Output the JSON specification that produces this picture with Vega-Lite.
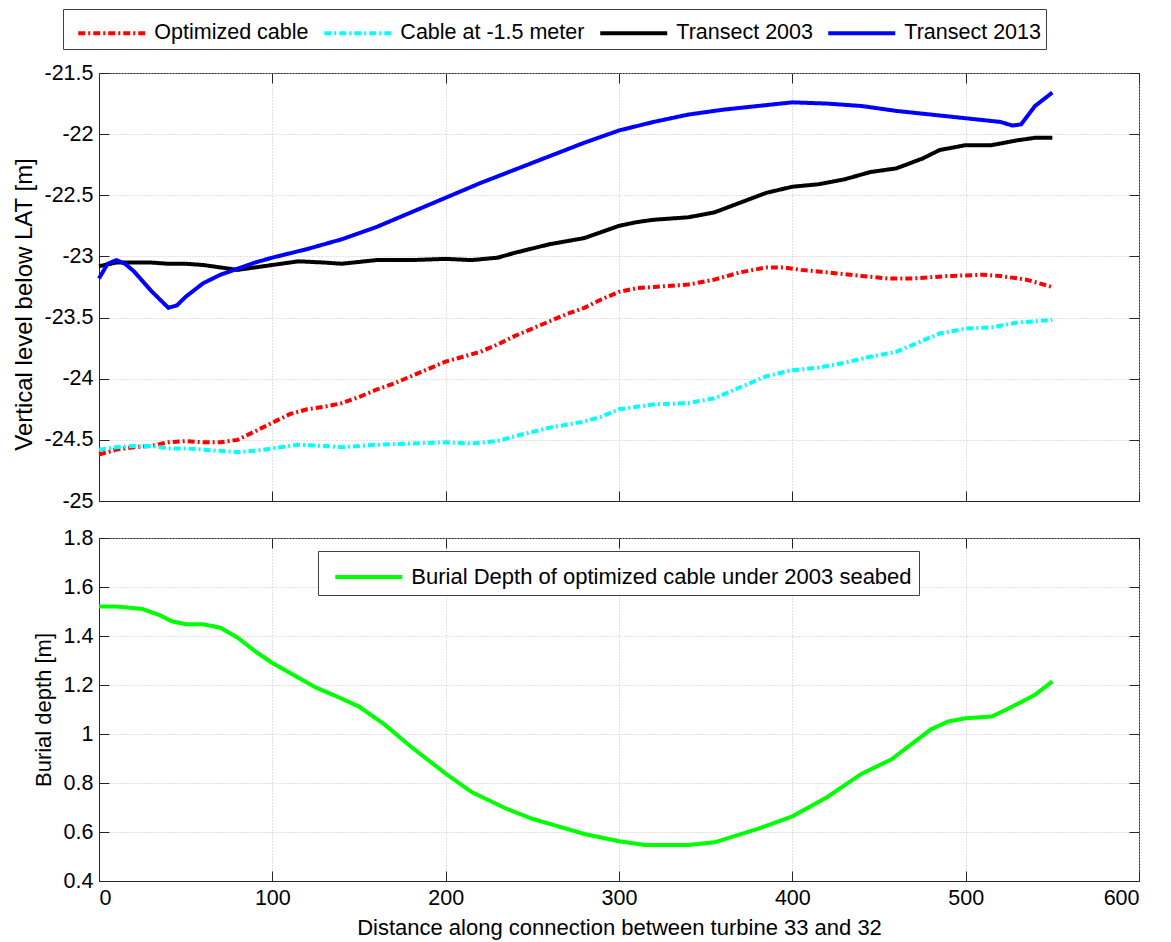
{
  "$schema": "https://vega.github.io/schema/vega-lite/v6.json",
  "background": "white",
  "padding": {"left": 12, "top": 8, "right": 10, "bottom": 5},
  "config": {
    "font": "Liberation Sans",
    "view": {"stroke": "#262626", "strokeWidth": 1},
    "axis": {
      "labelFont": "Liberation Sans",
      "labelFontSize": 21.5,
      "labelColor": "#000000",
      "titleFont": "Liberation Sans",
      "titleFontSize": 22,
      "titleFontWeight": "normal",
      "titleColor": "#000000",
      "domainColor": "#262626",
      "tickColor": "#262626",
      "tickSize": -10,
      "gridColor": "#c4c4c4",
      "gridDash": [1, 2],
      "gridWidth": 1
    }
  },
  "datasets": {
    "levels": [
      {"series": "Optimized cable", "distance": 0, "level": -24.62},
      {"series": "Optimized cable", "distance": 10, "level": -24.58},
      {"series": "Optimized cable", "distance": 20, "level": -24.56},
      {"series": "Optimized cable", "distance": 30, "level": -24.55},
      {"series": "Optimized cable", "distance": 40, "level": -24.52},
      {"series": "Optimized cable", "distance": 50, "level": -24.51},
      {"series": "Optimized cable", "distance": 60, "level": -24.52},
      {"series": "Optimized cable", "distance": 70, "level": -24.52},
      {"series": "Optimized cable", "distance": 80, "level": -24.5},
      {"series": "Optimized cable", "distance": 90, "level": -24.43},
      {"series": "Optimized cable", "distance": 100, "level": -24.36},
      {"series": "Optimized cable", "distance": 110, "level": -24.29},
      {"series": "Optimized cable", "distance": 120, "level": -24.25},
      {"series": "Optimized cable", "distance": 130, "level": -24.23},
      {"series": "Optimized cable", "distance": 140, "level": -24.2},
      {"series": "Optimized cable", "distance": 150, "level": -24.15},
      {"series": "Optimized cable", "distance": 160, "level": -24.09},
      {"series": "Optimized cable", "distance": 170, "level": -24.04},
      {"series": "Optimized cable", "distance": 180, "level": -23.98},
      {"series": "Optimized cable", "distance": 190, "level": -23.92},
      {"series": "Optimized cable", "distance": 200, "level": -23.86},
      {"series": "Optimized cable", "distance": 210, "level": -23.82},
      {"series": "Optimized cable", "distance": 220, "level": -23.78},
      {"series": "Optimized cable", "distance": 230, "level": -23.72},
      {"series": "Optimized cable", "distance": 240, "level": -23.65},
      {"series": "Optimized cable", "distance": 250, "level": -23.59},
      {"series": "Optimized cable", "distance": 260, "level": -23.53},
      {"series": "Optimized cable", "distance": 270, "level": -23.47},
      {"series": "Optimized cable", "distance": 280, "level": -23.42},
      {"series": "Optimized cable", "distance": 290, "level": -23.35},
      {"series": "Optimized cable", "distance": 300, "level": -23.29},
      {"series": "Optimized cable", "distance": 310, "level": -23.26},
      {"series": "Optimized cable", "distance": 320, "level": -23.25},
      {"series": "Optimized cable", "distance": 340, "level": -23.23},
      {"series": "Optimized cable", "distance": 355, "level": -23.19},
      {"series": "Optimized cable", "distance": 370, "level": -23.13},
      {"series": "Optimized cable", "distance": 385, "level": -23.09},
      {"series": "Optimized cable", "distance": 395, "level": -23.09},
      {"series": "Optimized cable", "distance": 405, "level": -23.11},
      {"series": "Optimized cable", "distance": 420, "level": -23.13},
      {"series": "Optimized cable", "distance": 440, "level": -23.16},
      {"series": "Optimized cable", "distance": 455, "level": -23.18},
      {"series": "Optimized cable", "distance": 470, "level": -23.18},
      {"series": "Optimized cable", "distance": 490, "level": -23.16},
      {"series": "Optimized cable", "distance": 510, "level": -23.15},
      {"series": "Optimized cable", "distance": 520, "level": -23.16},
      {"series": "Optimized cable", "distance": 535, "level": -23.19},
      {"series": "Optimized cable", "distance": 550, "level": -23.25},

      {"series": "Cable at -1.5 meter", "distance": 0, "level": -24.58},
      {"series": "Cable at -1.5 meter", "distance": 10, "level": -24.56},
      {"series": "Cable at -1.5 meter", "distance": 20, "level": -24.55},
      {"series": "Cable at -1.5 meter", "distance": 30, "level": -24.55},
      {"series": "Cable at -1.5 meter", "distance": 40, "level": -24.57},
      {"series": "Cable at -1.5 meter", "distance": 50, "level": -24.57},
      {"series": "Cable at -1.5 meter", "distance": 60, "level": -24.58},
      {"series": "Cable at -1.5 meter", "distance": 70, "level": -24.59},
      {"series": "Cable at -1.5 meter", "distance": 80, "level": -24.6},
      {"series": "Cable at -1.5 meter", "distance": 90, "level": -24.59},
      {"series": "Cable at -1.5 meter", "distance": 100, "level": -24.57},
      {"series": "Cable at -1.5 meter", "distance": 115, "level": -24.54},
      {"series": "Cable at -1.5 meter", "distance": 130, "level": -24.55},
      {"series": "Cable at -1.5 meter", "distance": 140, "level": -24.56},
      {"series": "Cable at -1.5 meter", "distance": 160, "level": -24.54},
      {"series": "Cable at -1.5 meter", "distance": 180, "level": -24.53},
      {"series": "Cable at -1.5 meter", "distance": 200, "level": -24.52},
      {"series": "Cable at -1.5 meter", "distance": 215, "level": -24.53},
      {"series": "Cable at -1.5 meter", "distance": 230, "level": -24.51},
      {"series": "Cable at -1.5 meter", "distance": 240, "level": -24.47},
      {"series": "Cable at -1.5 meter", "distance": 260, "level": -24.4},
      {"series": "Cable at -1.5 meter", "distance": 280, "level": -24.35},
      {"series": "Cable at -1.5 meter", "distance": 290, "level": -24.31},
      {"series": "Cable at -1.5 meter", "distance": 300, "level": -24.25},
      {"series": "Cable at -1.5 meter", "distance": 320, "level": -24.21},
      {"series": "Cable at -1.5 meter", "distance": 340, "level": -24.2},
      {"series": "Cable at -1.5 meter", "distance": 355, "level": -24.16},
      {"series": "Cable at -1.5 meter", "distance": 370, "level": -24.07},
      {"series": "Cable at -1.5 meter", "distance": 385, "level": -23.98},
      {"series": "Cable at -1.5 meter", "distance": 400, "level": -23.93},
      {"series": "Cable at -1.5 meter", "distance": 415, "level": -23.91},
      {"series": "Cable at -1.5 meter", "distance": 430, "level": -23.87},
      {"series": "Cable at -1.5 meter", "distance": 445, "level": -23.82},
      {"series": "Cable at -1.5 meter", "distance": 460, "level": -23.78},
      {"series": "Cable at -1.5 meter", "distance": 475, "level": -23.69},
      {"series": "Cable at -1.5 meter", "distance": 485, "level": -23.63},
      {"series": "Cable at -1.5 meter", "distance": 500, "level": -23.59},
      {"series": "Cable at -1.5 meter", "distance": 515, "level": -23.58},
      {"series": "Cable at -1.5 meter", "distance": 530, "level": -23.54},
      {"series": "Cable at -1.5 meter", "distance": 550, "level": -23.52},

      {"series": "Transect 2003", "distance": 0, "level": -23.08},
      {"series": "Transect 2003", "distance": 10, "level": -23.05},
      {"series": "Transect 2003", "distance": 20, "level": -23.05},
      {"series": "Transect 2003", "distance": 30, "level": -23.05},
      {"series": "Transect 2003", "distance": 40, "level": -23.06},
      {"series": "Transect 2003", "distance": 50, "level": -23.06},
      {"series": "Transect 2003", "distance": 60, "level": -23.07},
      {"series": "Transect 2003", "distance": 70, "level": -23.09},
      {"series": "Transect 2003", "distance": 80, "level": -23.11},
      {"series": "Transect 2003", "distance": 90, "level": -23.09},
      {"series": "Transect 2003", "distance": 100, "level": -23.07},
      {"series": "Transect 2003", "distance": 115, "level": -23.04},
      {"series": "Transect 2003", "distance": 130, "level": -23.05},
      {"series": "Transect 2003", "distance": 140, "level": -23.06},
      {"series": "Transect 2003", "distance": 160, "level": -23.03},
      {"series": "Transect 2003", "distance": 180, "level": -23.03},
      {"series": "Transect 2003", "distance": 200, "level": -23.02},
      {"series": "Transect 2003", "distance": 215, "level": -23.03},
      {"series": "Transect 2003", "distance": 230, "level": -23.01},
      {"series": "Transect 2003", "distance": 240, "level": -22.97},
      {"series": "Transect 2003", "distance": 260, "level": -22.9},
      {"series": "Transect 2003", "distance": 280, "level": -22.85},
      {"series": "Transect 2003", "distance": 290, "level": -22.8},
      {"series": "Transect 2003", "distance": 300, "level": -22.75},
      {"series": "Transect 2003", "distance": 310, "level": -22.72},
      {"series": "Transect 2003", "distance": 320, "level": -22.7},
      {"series": "Transect 2003", "distance": 340, "level": -22.68},
      {"series": "Transect 2003", "distance": 355, "level": -22.64},
      {"series": "Transect 2003", "distance": 370, "level": -22.56},
      {"series": "Transect 2003", "distance": 385, "level": -22.48},
      {"series": "Transect 2003", "distance": 400, "level": -22.43},
      {"series": "Transect 2003", "distance": 415, "level": -22.41},
      {"series": "Transect 2003", "distance": 430, "level": -22.37},
      {"series": "Transect 2003", "distance": 445, "level": -22.31},
      {"series": "Transect 2003", "distance": 460, "level": -22.28},
      {"series": "Transect 2003", "distance": 475, "level": -22.2},
      {"series": "Transect 2003", "distance": 485, "level": -22.13},
      {"series": "Transect 2003", "distance": 500, "level": -22.09},
      {"series": "Transect 2003", "distance": 515, "level": -22.09},
      {"series": "Transect 2003", "distance": 530, "level": -22.05},
      {"series": "Transect 2003", "distance": 540, "level": -22.03},
      {"series": "Transect 2003", "distance": 550, "level": -22.03},

      {"series": "Transect 2013", "distance": 0, "level": -23.18},
      {"series": "Transect 2013", "distance": 5, "level": -23.06},
      {"series": "Transect 2013", "distance": 10, "level": -23.03},
      {"series": "Transect 2013", "distance": 15, "level": -23.06},
      {"series": "Transect 2013", "distance": 20, "level": -23.12},
      {"series": "Transect 2013", "distance": 30, "level": -23.28},
      {"series": "Transect 2013", "distance": 40, "level": -23.42},
      {"series": "Transect 2013", "distance": 45, "level": -23.4},
      {"series": "Transect 2013", "distance": 50, "level": -23.33},
      {"series": "Transect 2013", "distance": 60, "level": -23.22},
      {"series": "Transect 2013", "distance": 70, "level": -23.15},
      {"series": "Transect 2013", "distance": 80, "level": -23.1},
      {"series": "Transect 2013", "distance": 90, "level": -23.05},
      {"series": "Transect 2013", "distance": 100, "level": -23.01},
      {"series": "Transect 2013", "distance": 120, "level": -22.94},
      {"series": "Transect 2013", "distance": 140, "level": -22.86},
      {"series": "Transect 2013", "distance": 160, "level": -22.76},
      {"series": "Transect 2013", "distance": 180, "level": -22.64},
      {"series": "Transect 2013", "distance": 200, "level": -22.52},
      {"series": "Transect 2013", "distance": 220, "level": -22.4},
      {"series": "Transect 2013", "distance": 240, "level": -22.29},
      {"series": "Transect 2013", "distance": 260, "level": -22.18},
      {"series": "Transect 2013", "distance": 280, "level": -22.07},
      {"series": "Transect 2013", "distance": 300, "level": -21.97},
      {"series": "Transect 2013", "distance": 320, "level": -21.9},
      {"series": "Transect 2013", "distance": 340, "level": -21.84},
      {"series": "Transect 2013", "distance": 360, "level": -21.8},
      {"series": "Transect 2013", "distance": 380, "level": -21.77},
      {"series": "Transect 2013", "distance": 400, "level": -21.74},
      {"series": "Transect 2013", "distance": 420, "level": -21.75},
      {"series": "Transect 2013", "distance": 440, "level": -21.77},
      {"series": "Transect 2013", "distance": 460, "level": -21.81},
      {"series": "Transect 2013", "distance": 480, "level": -21.84},
      {"series": "Transect 2013", "distance": 500, "level": -21.87},
      {"series": "Transect 2013", "distance": 520, "level": -21.9},
      {"series": "Transect 2013", "distance": 527, "level": -21.93},
      {"series": "Transect 2013", "distance": 532, "level": -21.92},
      {"series": "Transect 2013", "distance": 540, "level": -21.77},
      {"series": "Transect 2013", "distance": 550, "level": -21.66}
    ],
    "burial": [
      {"series": "Burial Depth of optimized cable under 2003 seabed", "distance": 0, "depth": 1.52},
      {"series": "Burial Depth of optimized cable under 2003 seabed", "distance": 10, "depth": 1.52},
      {"series": "Burial Depth of optimized cable under 2003 seabed", "distance": 25, "depth": 1.51},
      {"series": "Burial Depth of optimized cable under 2003 seabed", "distance": 35, "depth": 1.485},
      {"series": "Burial Depth of optimized cable under 2003 seabed", "distance": 42, "depth": 1.46},
      {"series": "Burial Depth of optimized cable under 2003 seabed", "distance": 50, "depth": 1.448},
      {"series": "Burial Depth of optimized cable under 2003 seabed", "distance": 60, "depth": 1.448},
      {"series": "Burial Depth of optimized cable under 2003 seabed", "distance": 70, "depth": 1.434},
      {"series": "Burial Depth of optimized cable under 2003 seabed", "distance": 80, "depth": 1.393},
      {"series": "Burial Depth of optimized cable under 2003 seabed", "distance": 90, "depth": 1.338},
      {"series": "Burial Depth of optimized cable under 2003 seabed", "distance": 100, "depth": 1.29},
      {"series": "Burial Depth of optimized cable under 2003 seabed", "distance": 110, "depth": 1.25},
      {"series": "Burial Depth of optimized cable under 2003 seabed", "distance": 125, "depth": 1.19},
      {"series": "Burial Depth of optimized cable under 2003 seabed", "distance": 135, "depth": 1.16},
      {"series": "Burial Depth of optimized cable under 2003 seabed", "distance": 150, "depth": 1.112},
      {"series": "Burial Depth of optimized cable under 2003 seabed", "distance": 165, "depth": 1.037},
      {"series": "Burial Depth of optimized cable under 2003 seabed", "distance": 180, "depth": 0.948},
      {"series": "Burial Depth of optimized cable under 2003 seabed", "distance": 200, "depth": 0.838},
      {"series": "Burial Depth of optimized cable under 2003 seabed", "distance": 215, "depth": 0.763},
      {"series": "Burial Depth of optimized cable under 2003 seabed", "distance": 235, "depth": 0.695},
      {"series": "Burial Depth of optimized cable under 2003 seabed", "distance": 250, "depth": 0.654},
      {"series": "Burial Depth of optimized cable under 2003 seabed", "distance": 260, "depth": 0.633},
      {"series": "Burial Depth of optimized cable under 2003 seabed", "distance": 280, "depth": 0.592},
      {"series": "Burial Depth of optimized cable under 2003 seabed", "distance": 300, "depth": 0.562},
      {"series": "Burial Depth of optimized cable under 2003 seabed", "distance": 315, "depth": 0.547},
      {"series": "Burial Depth of optimized cable under 2003 seabed", "distance": 340, "depth": 0.547},
      {"series": "Burial Depth of optimized cable under 2003 seabed", "distance": 355, "depth": 0.558},
      {"series": "Burial Depth of optimized cable under 2003 seabed", "distance": 380, "depth": 0.613},
      {"series": "Burial Depth of optimized cable under 2003 seabed", "distance": 400, "depth": 0.664},
      {"series": "Burial Depth of optimized cable under 2003 seabed", "distance": 420, "depth": 0.742},
      {"series": "Burial Depth of optimized cable under 2003 seabed", "distance": 440, "depth": 0.838},
      {"series": "Burial Depth of optimized cable under 2003 seabed", "distance": 457, "depth": 0.896},
      {"series": "Burial Depth of optimized cable under 2003 seabed", "distance": 480, "depth": 1.019},
      {"series": "Burial Depth of optimized cable under 2003 seabed", "distance": 490, "depth": 1.051},
      {"series": "Burial Depth of optimized cable under 2003 seabed", "distance": 500, "depth": 1.064},
      {"series": "Burial Depth of optimized cable under 2003 seabed", "distance": 515, "depth": 1.071},
      {"series": "Burial Depth of optimized cable under 2003 seabed", "distance": 525, "depth": 1.105},
      {"series": "Burial Depth of optimized cable under 2003 seabed", "distance": 540, "depth": 1.16},
      {"series": "Burial Depth of optimized cable under 2003 seabed", "distance": 550, "depth": 1.215}
    ]
  },
  "spacing": 14,
  "vconcat": [
    {
      "width": 1040,
      "height": 428,
      "data": {"name": "levels"},
      "layer": [
        {
          "mark": {"type": "line", "strokeWidth": 4, "strokeCap": "butt"},
          "encoding": {
            "x": {
              "field": "distance", "type": "quantitative",
              "scale": {"domain": [0, 600], "nice": false},
              "axis": {"values": [0, 100, 200, 300, 400, 500, 600], "labels": false, "title": null, "grid": true}
            },
            "y": {
              "field": "level", "type": "quantitative",
              "scale": {"domain": [-25, -21.5], "nice": false, "zero": false},
              "axis": {
                "values": [-25, -24.5, -24, -23.5, -23, -22.5, -22, -21.5],
                "labelExpr": "'' + datum.value",
                "title": "Vertical level below LAT [m]",
                "titleFontSize": 24, "titleY": 231,
                "grid": true, "labelPadding": 16, "titlePadding": 7
              }
            },
            "color": {
              "field": "series", "type": "nominal",
              "scale": {
                "domain": ["Optimized cable", "Cable at -1.5 meter", "Transect 2003", "Transect 2013"],
                "range": ["#ff0000", "#00ffff", "#000000", "#0000ff"]
              },
              "legend": {
                "title": null, "orient": "none", "legendX": -36, "legendY": -64,
                "direction": "horizontal", "symbolType": "M-2,0H2", "symbolSize": 1122,
                "symbolStrokeWidth": 4, "symbolOffset": 24.75, "labelOffset": 23.6,
                "padding": 5, "columnPadding": 5, "labelFont": "Liberation Sans",
                "labelFontSize": 21.5, "labelColor": "#000000", "labelLimit": 1000,
                "strokeColor": "#404040", "fillColor": "#ffffff"
              }
            },
            "strokeDash": {
              "field": "series", "type": "nominal",
              "scale": {
                "domain": ["Optimized cable", "Cable at -1.5 meter", "Transect 2003", "Transect 2013"],
                "range": [[7, 3, 2, 3], [7, 3, 2, 3], [1, 0], [1, 0]]
              },
              "legend": {
                "title": null, "orient": "none", "legendX": -36, "legendY": -64,
                "direction": "horizontal", "symbolType": "M-2,0H2", "symbolSize": 1122,
                "symbolStrokeWidth": 4, "symbolOffset": 24.75, "labelOffset": 23.6,
                "padding": 5, "columnPadding": 5, "labelFont": "Liberation Sans",
                "labelFontSize": 21.5, "labelColor": "#000000", "labelLimit": 1000,
                "strokeColor": "#404040", "fillColor": "#ffffff"
              }
            }
          }
        },
        {
          "mark": {"type": "line", "opacity": 0},
          "encoding": {
            "x": {
              "field": "distance", "type": "quantitative",
              "axis": {"orient": "top", "values": [0, 100, 200, 300, 400, 500, 600], "labels": false, "title": null, "grid": false, "domain": false}
            },
            "y": {
              "field": "level", "type": "quantitative",
              "axis": {"orient": "right", "values": [-25, -24.5, -24, -23.5, -23, -22.5, -22, -21.5], "labels": false, "title": null, "grid": false, "domain": false}
            },
            "detail": {"field": "series"}
          }
        }
      ],
      "resolve": {"axis": {"x": "independent", "y": "independent"}}
    },
    {
      "width": 1040,
      "height": 343,
      "data": {"name": "burial"},
      "layer": [
        {
          "mark": {"type": "line", "strokeWidth": 4, "strokeCap": "butt"},
          "encoding": {
            "x": {
              "field": "distance", "type": "quantitative",
              "scale": {"domain": [0, 600], "nice": false},
              "axis": {
                "values": [0, 100, 200, 300, 400, 500, 600],
                "labelExpr": "'' + datum.value",
                "title": "Distance along connection between turbine 33 and 32",
                "grid": true, "labelPadding": 16, "titlePadding": 9
              }
            },
            "y": {
              "field": "depth", "type": "quantitative",
              "scale": {"domain": [0.4, 1.8], "nice": false, "zero": false},
              "axis": {
                "values": [0.4, 0.6, 0.8, 1, 1.2, 1.4, 1.6, 1.8],
                "labelExpr": "'' + datum.value",
                "title": "Burial depth [m]",
                "grid": true, "labelPadding": 16, "titlePadding": 8
              }
            },
            "color": {
              "field": "series", "type": "nominal",
              "scale": {"range": ["#00ff00"]},
              "legend": {
                "title": null, "orient": "none", "legendX": 219, "legendY": 13,
                "direction": "horizontal", "symbolType": "M-2,0H2", "symbolSize": 1122,
                "symbolStrokeWidth": 4, "symbolOffset": 24.75, "labelOffset": 23.6,
                "padding": 7, "labelFont": "Liberation Sans",
                "labelFontSize": 22, "labelColor": "#000000", "labelLimit": 1000,
                "strokeColor": "#404040", "fillColor": "#ffffff"
              }
            }
          }
        },
        {
          "mark": {"type": "line", "opacity": 0},
          "encoding": {
            "x": {
              "field": "distance", "type": "quantitative",
              "axis": {"orient": "top", "values": [0, 100, 200, 300, 400, 500, 600], "labels": false, "title": null, "grid": false, "domain": false}
            },
            "y": {
              "field": "depth", "type": "quantitative",
              "axis": {"orient": "right", "values": [0.4, 0.6, 0.8, 1, 1.2, 1.4, 1.6, 1.8], "labels": false, "title": null, "grid": false, "domain": false}
            }
          }
        }
      ],
      "resolve": {"axis": {"x": "independent", "y": "independent"}}
    }
  ],
  "resolve": {
    "scale": {"color": "independent", "strokeDash": "independent"},
    "legend": {"color": "independent", "strokeDash": "independent"}
  }
}
